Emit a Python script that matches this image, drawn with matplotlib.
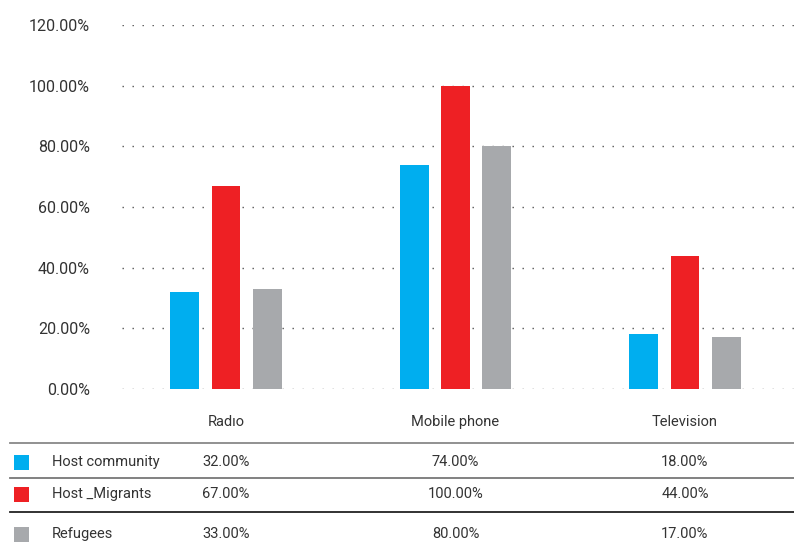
import matplotlib
matplotlib.use("Agg")
import matplotlib.pyplot as plt
from matplotlib.patches import Rectangle
from matplotlib.lines import Line2D
from matplotlib.transforms import blended_transform_factory
import numpy as np

# data
categories = ["Radıo", "Mobile phone", "Television"]
series_names = ["Host community", "Host _Migrants", "Refugees"]
host_community = [32.0, 74.0, 18.0]
host_migrants = [67.0, 100.0, 44.0]
refugees = [33.0, 80.0, 17.0]
yticks = [0, 20, 40, 60, 80, 100, 120]

series_values = [host_community, host_migrants, refugees]
colors = ["#00AEEF", "#EE2024", "#A7A9AC"]
text_color = "#333333"

plt.rcParams['font.family'] = ['Roboto', 'DejaVu Sans']

fig = plt.figure(figsize=(7.94, 5.45), dpi=100)
ax = fig.add_axes([122 / 794, 1 - 389 / 545, 1 - 122 / 794, (389 - 25) / 545])

x = np.arange(len(categories))
bar_w = 0.126
offset = 0.179
for i, vals in enumerate(series_values):
    ax.bar(x + (i - 1) * offset, vals, width=bar_w, color=colors[i], zorder=3)

ax.set_xlim(-0.453, 2.475)
ax.set_ylim(0, 120)
ax.set_yticks(yticks)
ax.set_yticklabels([f"{v:.2f}%" for v in yticks], fontsize=11.5, color=text_color)
ax.tick_params(axis='y', length=0, pad=23)
ax.set_xticks([])
for s in ax.spines.values():
    s.set_visible(False)
ax.yaxis.grid(True, linestyle=(0, (1, 6.2)), color="#555555", linewidth=1.0, zorder=0)

# table below chart
tr = blended_transform_factory(ax.transData, fig.transFigure)
header_y = 1 - 422 / 545
row_y = [1 - 462 / 545, 1 - 494 / 545, 1 - 534 / 545]
line_y = [1 - 443 / 545, 1 - 478 / 545, 1 - 512 / 545]
line_colors = ["#888888", "#777777", "#222222"]

for j, cat in enumerate(categories):
    ax.text(x[j], header_y, cat, transform=tr, ha='center', va='center',
            fontsize=10.5, color=text_color)

for ly, lc in zip(line_y, line_colors):
    fig.add_artist(Line2D([10 / 794, 1.0], [ly, ly], transform=fig.transFigure,
                          color=lc, linewidth=1.3))

for i, name in enumerate(series_names):
    ry = row_y[i]
    fig.add_artist(Rectangle((14 / 794, ry - 7.5 / 545), 15 / 794, 15 / 545,
                             transform=fig.transFigure, facecolor=colors[i],
                             edgecolor='none'))
    fig.text(52 / 794, ry, name, ha='left', va='center', fontsize=10.5, color=text_color)
    for j in range(len(categories)):
        ax.text(x[j], ry, f"{series_values[i][j]:.2f}%", transform=tr,
                ha='center', va='center', fontsize=10.5, color=text_color)

fig.savefig("out.png", dpi=100)
